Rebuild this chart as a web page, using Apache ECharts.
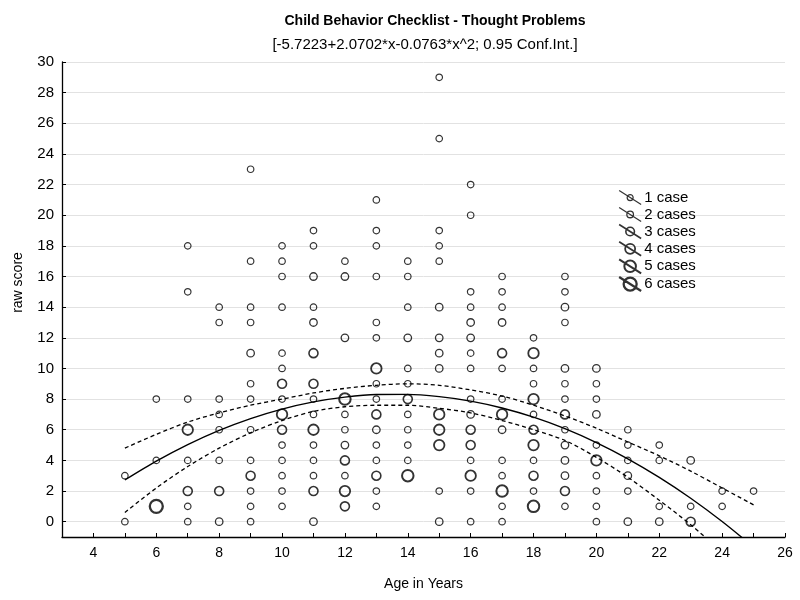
<!DOCTYPE html>
<html>
<head>
<meta charset="utf-8">
<script src="https://cdn.jsdelivr.net/npm/echarts@6/dist/echarts.min.js"></script>
<style>html,body{margin:0;padding:0;background:#fff}#c{width:800px;height:600px}</style>
</head>
<body>
<div id="c"></div>
<script>
// [age, raw score] pairs grouped by number of cases at that point
const cases1 = [
  [5,0],[5,3],[6,4],[6,8],[7,0],[7,1],[7,4],[7,8],[7,15],[7,18],
  [8,4],[8,6],[8,7],[8,8],[8,13],[8,14],
  [9,0],[9,1],[9,2],[9,4],[9,6],[9,8],[9,9],[9,13],[9,14],[9,17],[9,23],
  [10,1],[10,2],[10,3],[10,4],[10,5],[10,8],[10,10],[10,11],[10,14],[10,16],[10,17],[10,18],
  [11,3],[11,4],[11,5],[11,7],[11,8],[11,14],[11,18],[11,19],
  [12,3],[12,6],[12,7],[12,17],
  [13,1],[13,2],[13,4],[13,5],[13,8],[13,9],[13,12],[13,13],[13,16],[13,18],[13,19],[13,21],
  [14,4],[14,5],[14,6],[14,7],[14,9],[14,10],[14,14],[14,16],[14,17],
  [15,2],[15,17],[15,18],[15,19],[15,25],[15,29],
  [16,0],[16,2],[16,4],[16,8],[16,10],[16,11],[16,14],[16,15],[16,20],[16,22],
  [17,0],[17,1],[17,3],[17,4],[17,8],[17,10],[17,14],[17,15],[17,16],
  [18,2],[18,4],[18,7],[18,9],[18,10],[18,12],
  [19,1],[19,6],[19,8],[19,9],[19,13],[19,15],[19,16],
  [20,0],[20,1],[20,2],[20,3],[20,5],[20,8],[20,9],
  [21,2],[21,4],[21,5],[21,6],[22,1],[22,4],[22,5],[23,1],[24,1],[24,2],[25,2]
];
const cases2 = [
  [8,0],[9,11],[11,0],[11,13],[11,16],[12,5],[12,12],[12,16],[13,6],[14,12],
  [15,0],[15,10],[15,11],[15,12],[15,14],[16,7],[16,12],[16,13],[17,6],[17,13],
  [19,3],[19,4],[19,5],[19,10],[19,14],[20,7],[20,10],[21,0],[21,3],[22,0],[23,4]
];
const cases3 = [
  [7,2],[8,2],[9,3],[10,6],[10,9],[11,2],[11,9],[11,11],[12,1],[12,4],
  [13,3],[13,7],[14,8],[16,5],[16,6],[17,11],[18,3],[18,6],[19,2],[19,7],[23,0]
];
const cases4 = [
  [7,6],[10,7],[11,6],[12,2],[13,10],[15,5],[15,6],[15,7],[16,3],[17,7],
  [18,5],[18,8],[18,11],[20,4]
];
const cases5 = [[12,8],[14,3],[17,2],[18,1]];
const cases6 = [[6,1]];

const caseNames = ['1 case','2 cases','3 cases','4 cases','5 cases','6 cases'];

// fitted curve and 0.95 confidence band
const curveAges = [5,6,7,8,9,10,11,12,13,14,15,16,17,18,19,20,21,22,23,24,25];
const fitLine   = [2.72,3.95,5.03,5.96,6.73,7.35,7.82,8.13,8.30,8.31,8.16,7.87,7.42,6.82,6.07,5.16,4.10,2.89,1.53,0.01,-1.66];
const upperCI   = [4.8,5.7,6.5,7.1,7.6,8.0,8.4,8.7,8.9,9.0,8.9,8.6,8.2,7.6,6.9,6.1,5.2,4.3,3.3,2.2,1.1];
const lowerCI   = [0.6,2.2,3.6,4.8,5.8,6.6,7.2,7.5,7.6,7.6,7.4,7.1,6.6,6.0,5.3,4.2,2.9,1.4,-0.2,-2.0,-3.9];

const xTickLabels = [4,6,8,10,12,14,16,18,20,22,24,26];
const xTickMarks = [3,4,5,6,7,8,9,10,11,12,13,14,15,16,17,18,19,20,21,22,23,24,25,26];
const yTickLabels = [0,2,4,6,8,10,12,14,16,18,20,22,24,26,28,30];

const caseData = [cases1,cases2,cases3,cases4,cases5,cases6];
const symSizes = [6.5,7.5,9,10.5,11.5,13];
const strokeW = [1.2,1.3,1.6,1.8,2.0,2.3];
const legendR = [3,3.3,4.3,5,5.8,6.5];

function iconPath(r){
  const cx=11, cy=7;
  return 'path://M0 0 L22 14 M'+(cx-r)+' '+cy+' A'+r+' '+r+' 0 1 0 '+(cx+r)+' '+cy+' A'+r+' '+r+' 0 1 0 '+(cx-r)+' '+cy+' Z';
}

const pair = (xs, ys) => xs.map((x,i)=>[x, ys[i]]);

const series = caseData.map((d,i)=>({
  name: caseNames[i],
  type: 'scatter',
  data: d,
  symbol: 'circle',
  symbolSize: symSizes[i],
  itemStyle: {color: 'rgba(0,0,0,0)', borderColor: '#000', borderWidth: strokeW[i]},
  emphasis: {disabled: true},
  z: 3
}));
series.push({
  type: 'line', data: pair(curveAges, fitLine), smooth: 0.3, symbol: 'none',
  lineStyle: {color: '#000', width: 1.4}, clip: true, z: 4, silent: true
});
series.push({
  type: 'line', data: pair(curveAges, upperCI), smooth: 0.3, symbol: 'none',
  lineStyle: {color: '#000', width: 1.3, type: [4,3]}, clip: true, z: 4, silent: true
});
series.push({
  type: 'line', data: pair(curveAges, lowerCI), smooth: 0.3, symbol: 'none',
  lineStyle: {color: '#000', width: 1.3, type: [4,3]}, clip: true, z: 4, silent: true
});

const FONT = 'Liberation Sans, Arial, sans-serif';
const chart = echarts.init(document.getElementById('c'), null, {renderer: 'canvas'});
chart.setOption({
  animation: false,
  backgroundColor: '#fff',
  title: [{
    text: 'Child Behavior Checklist - Thought Problems',
    left: 430, top: 9, textAlign: 'center',
    textStyle: {fontFamily: FONT, fontSize: 14, fontWeight: 'bold', color: '#000'}
  }, {
    text: '[-5.7223+2.0702*x-0.0763*x^2; 0.95 Conf.Int.]',
    left: 420, top: 32, textAlign: 'center',
    textStyle: {fontFamily: FONT, fontSize: 15, fontWeight: 'normal', color: '#000'}
  }],
  legend: {
    orient: 'vertical', left: 613, top: 185, itemWidth: 22, itemHeight: 14, itemGap: 1.6,
    selectedMode: false,
    textStyle: {fontFamily: FONT, fontSize: 15, lineHeight: 14, color: '#000', padding: [0,0,0,-2]},
    data: caseNames.map((n,i)=>({
      name: n, icon: iconPath(legendR[i]),
      itemStyle: {color: 'rgba(0,0,0,0)', borderColor: '#000', borderWidth: strokeW[i]}
    }))
  },
  grid: {left: 62, right: 15, top: 62, bottom: 63, containLabel: false},
  xAxis: {
    type: 'value', min: 3, max: 26,
    name: 'Age in Years', nameLocation: 'middle', nameGap: 40,
    nameTextStyle: {fontFamily: 'Liberation Sans Narrow, Arial Narrow, Liberation Sans, sans-serif', fontSize: 14, color: '#000'},
    axisLine: {show: true, onZero: false, lineStyle: {color: '#000', width: 1.3}},
    axisTick: {show: true, inside: true, length: 4, customValues: xTickMarks, lineStyle: {color: '#000'}},
    axisLabel: {customValues: xTickLabels, fontFamily: 'Liberation Sans Narrow, Arial Narrow, Liberation Sans, sans-serif', fontSize: 14, color: '#000', margin: 9},
    splitLine: {show: false}
  },
  yAxis: {
    type: 'value', min: -1, max: 30,
    name: 'raw score', nameLocation: 'middle', nameGap: 37, nameRotate: 90,
    nameTextStyle: {fontFamily: FONT, fontSize: 14, color: '#000', padding: [0,0,0,34]},
    axisLine: {show: true, onZero: false, lineStyle: {color: '#000', width: 1.3}},
    axisTick: {show: true, inside: true, length: 4, customValues: yTickLabels, lineStyle: {color: '#000'}},
    axisLabel: {customValues: yTickLabels, fontFamily: FONT, fontSize: 15, color: '#000', margin: 8},
    splitLine: {show: true, lineStyle: {color: '#e2e2e2', width: 1}}
  },
  series: series
});
</script>
</body>
</html>
